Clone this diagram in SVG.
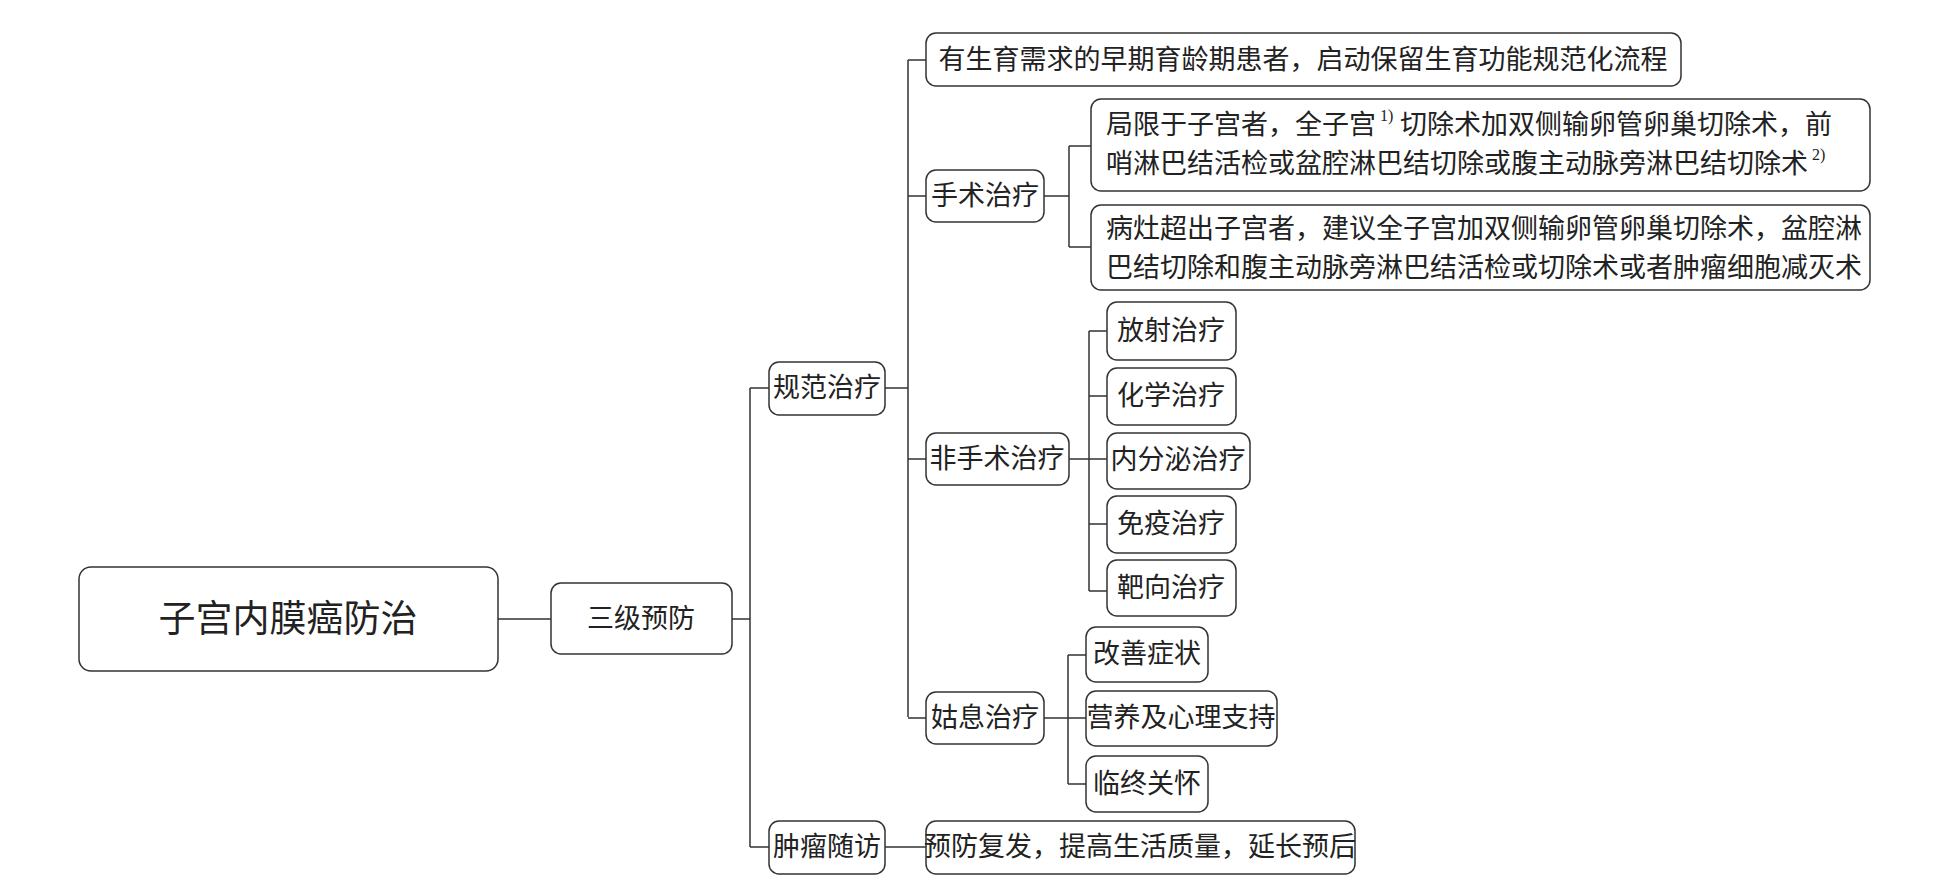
<svg xmlns="http://www.w3.org/2000/svg" width="1942" height="892" viewBox="0 0 1942 892">
<style>
rect{fill:#fff;stroke:#333;stroke-width:1.5}
text{font-family:"Liberation Serif","Noto Sans CJK SC",serif;font-size:27px;fill:#222;dominant-baseline:central}
.c{text-anchor:middle}
.sup{font-size:16px}
#conn path{fill:none;stroke:#333;stroke-width:1.5}
</style>
<rect x="0" y="0" width="1942" height="892" style="fill:#fff;stroke:none"/>
<g id="conn">
<path d="M498 619H551M732 619H750M750 388V847M750 388H769M750 847H769"/>
<path d="M885 388H908M908 60V717M908 60H926M908 196H926M908 459H926M908 718H926M885 847H926"/>
<path d="M1044 196H1069M1069 146V247M1069 146H1091M1069 247H1091"/>
<path d="M1069 459H1107M1089 331V591M1089 331H1107M1089 396H1107M1089 524H1107M1089 591H1107"/>
<path d="M1044 718H1086M1068 655V784M1068 655H1086M1068 784H1086"/>
</g>
<g id="root"><rect x="79" y="567" width="419" height="104" rx="12"/><text x="288" y="619" class="c" style="font-size:37px">子宫内膜癌防治</text></g>
<g id="sanji"><rect x="551" y="583" width="181" height="71" rx="10"/><text x="641" y="619" class="c">三级预防</text></g>
<g id="guifan"><rect x="769" y="362" width="116" height="53" rx="10"/><text x="827" y="388" class="c">规范治疗</text></g>
<g id="suifang"><rect x="769" y="821" width="116" height="53" rx="10"/><text x="827" y="847" class="c">肿瘤随访</text></g>
<g id="shengyu"><rect x="926" y="33" width="755" height="53" rx="10"/><text x="1303" y="60" class="c">有生育需求的早期育龄期患者，启动保留生育功能规范化流程</text></g>
<g id="shoushu"><rect x="926" y="170" width="118" height="52" rx="10"/><text x="985" y="196" class="c">手术治疗</text></g>
<g id="feishoushu"><rect x="926" y="433" width="143" height="52" rx="10"/><text x="997" y="459" class="c">非手术治疗</text></g>
<g id="guxi"><rect x="926" y="692" width="118" height="52" rx="10"/><text x="985" y="718" class="c">姑息治疗</text></g>
<g id="yufang"><rect x="926" y="821" width="429" height="53" rx="10"/><text x="1140" y="847" class="c">预防复发，提高生活质量，延长预后</text></g>
<g id="ss1"><rect x="1091" y="99" width="779" height="92" rx="10"/>
<text x="1106" y="125">局限于子宫者，全子宫<tspan class="sup" dy="-10"> 1)</tspan><tspan dy="10"> 切除术加双侧输卵管卵巢切除术，前</tspan></text>
<text x="1106" y="164">哨淋巴结活检或盆腔淋巴结切除或腹主动脉旁淋巴结切除术<tspan class="sup" dy="-10"> 2)</tspan></text></g>
<g id="ss2"><rect x="1091" y="205" width="779" height="85" rx="10"/>
<text x="1106" y="229">病灶超出子宫者，建议全子宫加双侧输卵管卵巢切除术，盆腔淋</text>
<text x="1106" y="268">巴结切除和腹主动脉旁淋巴结活检或切除术或者肿瘤细胞减灭术</text></g>
<g id="fangshe"><rect x="1107" y="302" width="129" height="58" rx="10"/><text x="1171" y="331" class="c">放射治疗</text></g>
<g id="huaxue"><rect x="1107" y="368" width="129" height="57" rx="10"/><text x="1171" y="396" class="c">化学治疗</text></g>
<g id="neifenmi"><rect x="1107" y="433" width="143" height="56" rx="10"/><text x="1178" y="460" class="c">内分泌治疗</text></g>
<g id="mianyi"><rect x="1107" y="496" width="129" height="57" rx="10"/><text x="1171" y="524" class="c">免疫治疗</text></g>
<g id="baxiang"><rect x="1107" y="560" width="129" height="56" rx="10"/><text x="1171" y="588" class="c">靶向治疗</text></g>
<g id="gaishan"><rect x="1086" y="627" width="122" height="55" rx="10"/><text x="1147" y="654" class="c">改善症状</text></g>
<g id="yingyang"><rect x="1086" y="691" width="191" height="55" rx="10"/><text x="1181" y="718" class="c">营养及心理支持</text></g>
<g id="linzhong"><rect x="1086" y="756" width="122" height="56" rx="10"/><text x="1147" y="784" class="c">临终关怀</text></g>
</svg>
